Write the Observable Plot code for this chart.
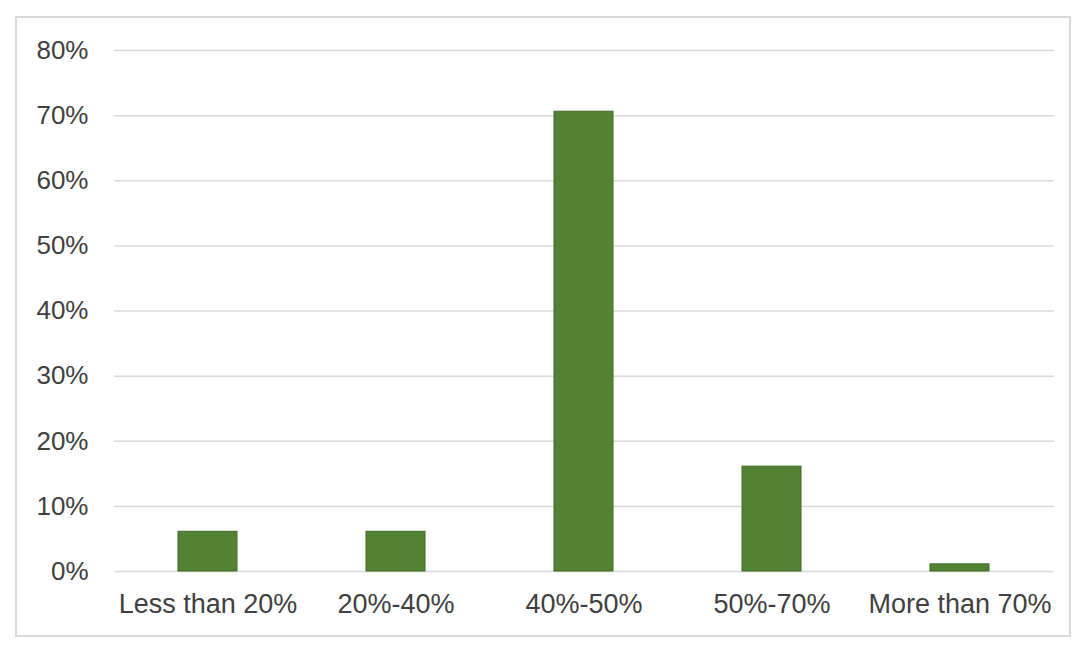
<!DOCTYPE html>
<html>
<head>
<meta charset="utf-8">
<script src="https://cdn.jsdelivr.net/npm/d3@7"></script>
<script src="https://cdn.jsdelivr.net/npm/@observablehq/plot@0.6"></script>
<style>
  html, body { margin: 0; padding: 0; background: #fff; }
  #wrap { position: relative; width: 1086px; height: 654px; }
  #frame { position: absolute; left: 15px; top: 16px; width: 1052px; height: 617px; border: 2px solid #d9d9d9; pointer-events: none; }
  #chart svg { display: block; }
</style>
</head>
<body>
<div id="wrap">
  <div id="chart"></div>
  <div id="frame"></div>
</div>
<script>
const categories = ["Less than 20%", "20%-40%", "40%-50%", "50%-70%", "More than 70%"];
const shares = [0.061, 0.061, 0.706, 0.161, 0.011];
const yTicks = [0, 0.1, 0.2, 0.3, 0.4, 0.5, 0.6, 0.7, 0.8];

const data = categories.map((c, i) => ({category: c, share: shares[i]}));

const chart = Plot.plot({
  width: 1086,
  height: 654,
  marginLeft: 114,
  marginRight: 32,
  marginTop: 50,
  marginBottom: 83,
  style: {fontFamily: "'Liberation Sans', Arial, sans-serif", fontSize: "26px", color: "#404040", background: "#fff"},
  x: {domain: categories, paddingInner: 0.686, paddingOuter: 0.343, label: null},
  y: {domain: [0, 0.8], label: null},
  marks: [
    Plot.gridY(yTicks, {stroke: "#d9d9d9", strokeOpacity: 1, strokeWidth: 1.5}),
    Plot.axisY(yTicks, {tickSize: 0, tickPadding: 26, tickFormat: d3.format(".0%"), label: null, fill: "#404040"}),
    Plot.axisX({tickSize: 0, tickPadding: 22, label: null, fill: "#404040", fontSize: 27}),
    Plot.barY(data, {x: "category", y: "share", fill: "#548235", stroke: "#3e6b25", strokeWidth: 1})
  ]
});
document.getElementById("chart").appendChild(chart);
</script>
</body>
</html>
